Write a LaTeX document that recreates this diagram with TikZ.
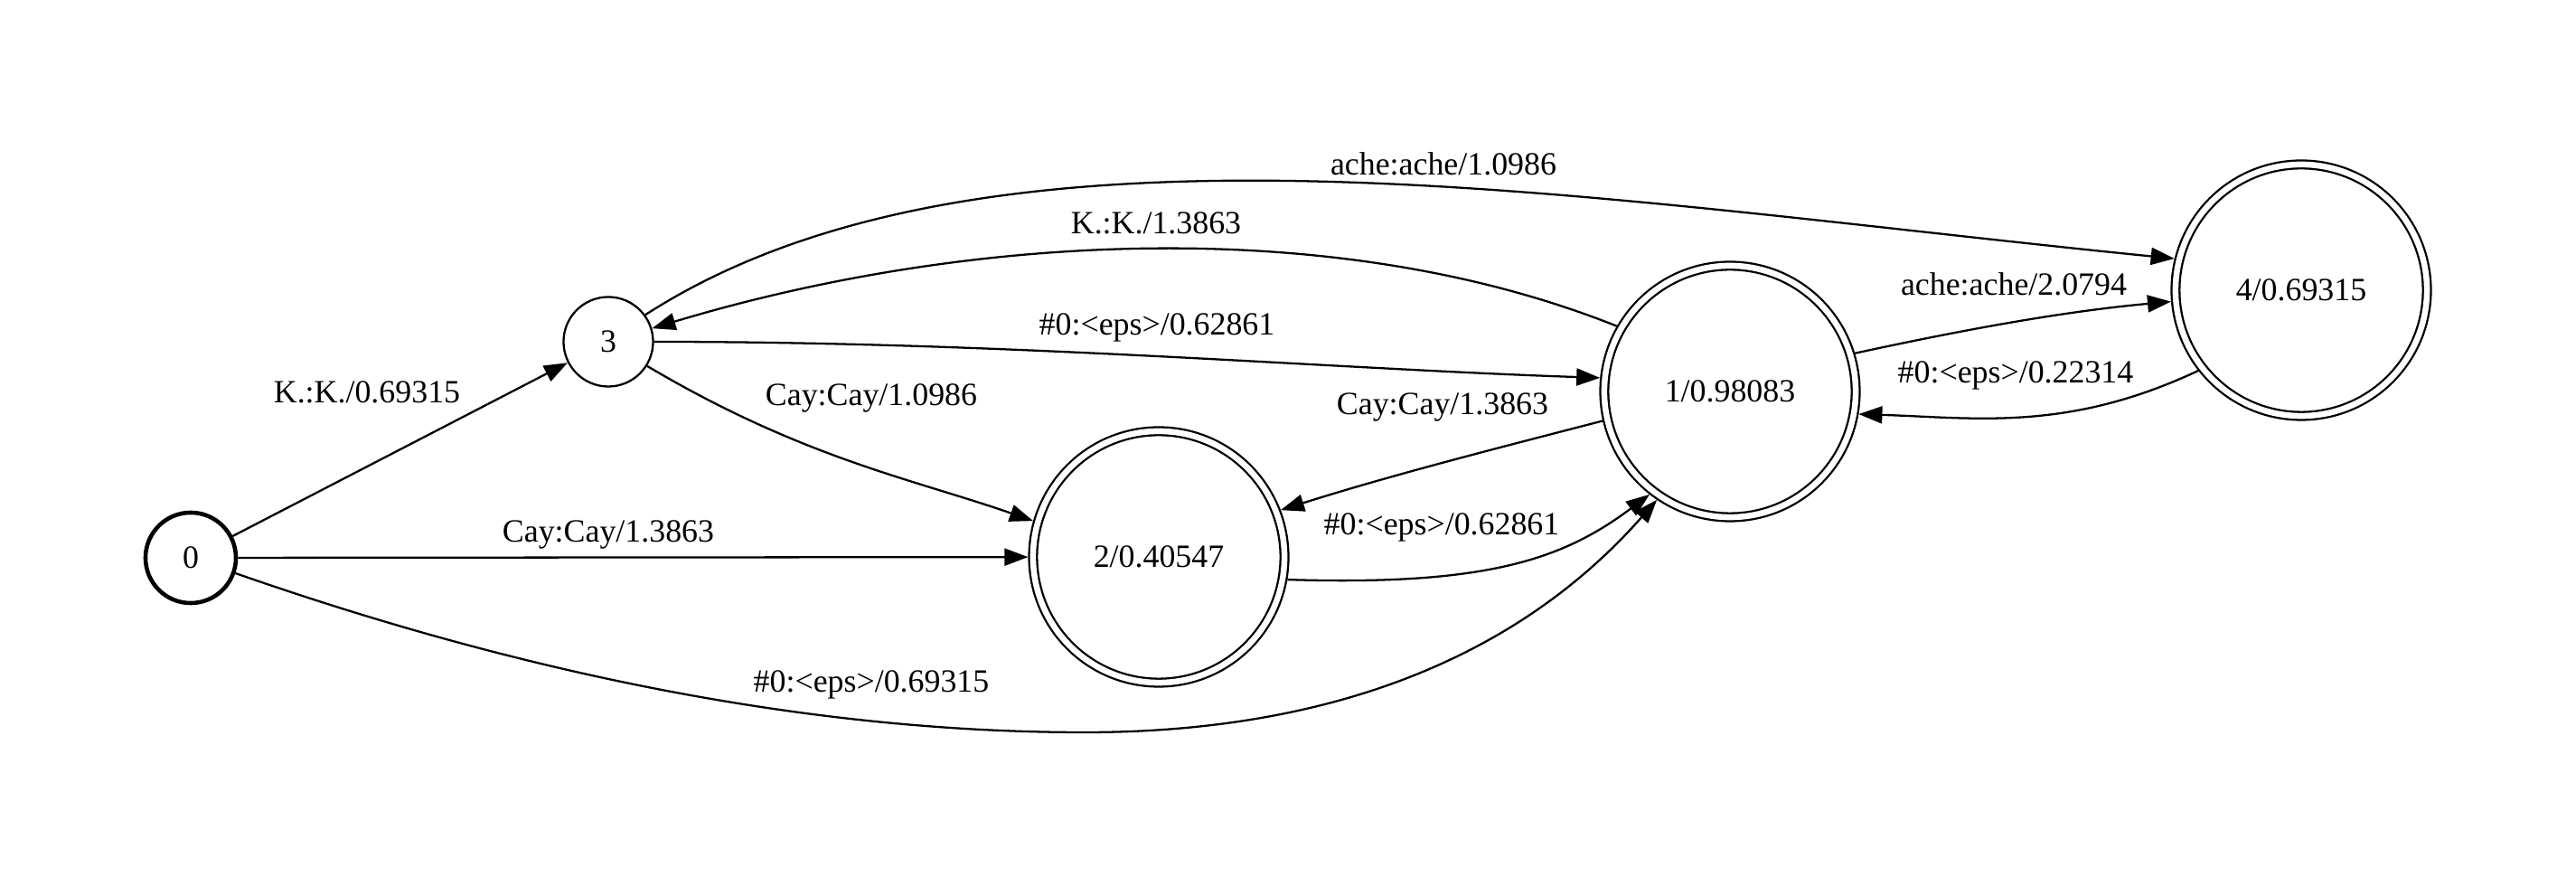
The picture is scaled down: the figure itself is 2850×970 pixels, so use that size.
\documentclass[tikz,border=0pt]{standalone}
\usepackage{fontspec}
\setmainfont{Liberation Serif}
\usetikzlibrary{arrows.meta}
\begin{document}
\begin{tikzpicture}[x=0.01cm,y=0.01cm, font=\fontsize{10.2pt}{12pt}\selectfont,
  state/.style={circle,draw,line width=0.65pt,minimum size=0.99cm,inner sep=0pt},
  initial/.style={state,line width=1.3pt,minimum size=1.0cm},
  final/.style={state,double,double distance=0.065cm,minimum size=2.78cm,outer sep=0.055cm},
  edge/.style={draw,line width=0.65pt,-{Triangle[length=0.26cm,width=0.19cm]}},
  lab/.style={anchor=base,inner sep=0pt}]
\useasboundingbox (0,0) rectangle (2850,970);
% states
\node[initial] (n0) at (211,353) {0};
\node[state] (n3) at (673,592) {3};
\node[final] (n2) at (1282,354) {2/0.40547};
\node[final] (n1) at (1914,537) {1/0.98083};
\node[final] (n4) at (2546,649) {4/0.69315};
% arcs
\draw[edge] (n0) -- (n3);
\draw[edge] (n0) -- (n2);
\draw[edge] (n0.341) .. controls +(378,-132) and +(-250,0) .. (1200,160)
  .. controls +(250,0) and +(-165,-187) .. (n1.236);
\draw[edge] (n3.328) .. controls +(172,-102) and +(-132,46) .. (n2.164);
\draw[edge] (n3.36) .. controls +(380,245) and +(-652,65) .. (n4.166);
\draw[edge] (n1.150) .. controls +(-316,126) and +(345,104) .. (n3.17);
\draw[edge] (n3.0) .. controls +(400,0) and +(-300,10) .. (n1.174);
\draw[edge] (n1.193) .. controls +(-120,-31) and +(120,38) .. (n2.21);
\draw[edge] (n2.350) .. controls +(220,-7) and +(-96,-72) .. (n1.232);
\draw[edge] (n1.17) .. controls +(120,26) and +(-120,-11) .. (n4.185);
\draw[edge] (n4.218) .. controls +(-145,-68) and +(130,-4) .. (n1.350);
% labels
\node[lab] (l03) at (406,524) {K.:K./0.69315};
\node[lab] (l02) at (673,370) {Cay:Cay/1.3863};
\node[lab] (l01) at (964,204) {\#0:<eps>/0.69315};
\node[lab] (l32) at (964,521) {Cay:Cay/1.0986};
\node[lab] (l34) at (1597,776) {ache:ache/1.0986};
\node[lab] (l13) at (1279,711) {K.:K./1.3863};
\node[lab] (l31) at (1280,599) {\#0:<eps>/0.62861};
\node[lab] (l12) at (1596,511) {Cay:Cay/1.3863};
\node[lab] (l21) at (1595,378) {\#0:<eps>/0.62861};
\node[lab] (l14) at (2228,643) {ache:ache/2.0794};
\node[lab] (l41) at (2230,546) {\#0:<eps>/0.22314};
\end{tikzpicture}
\end{document}
